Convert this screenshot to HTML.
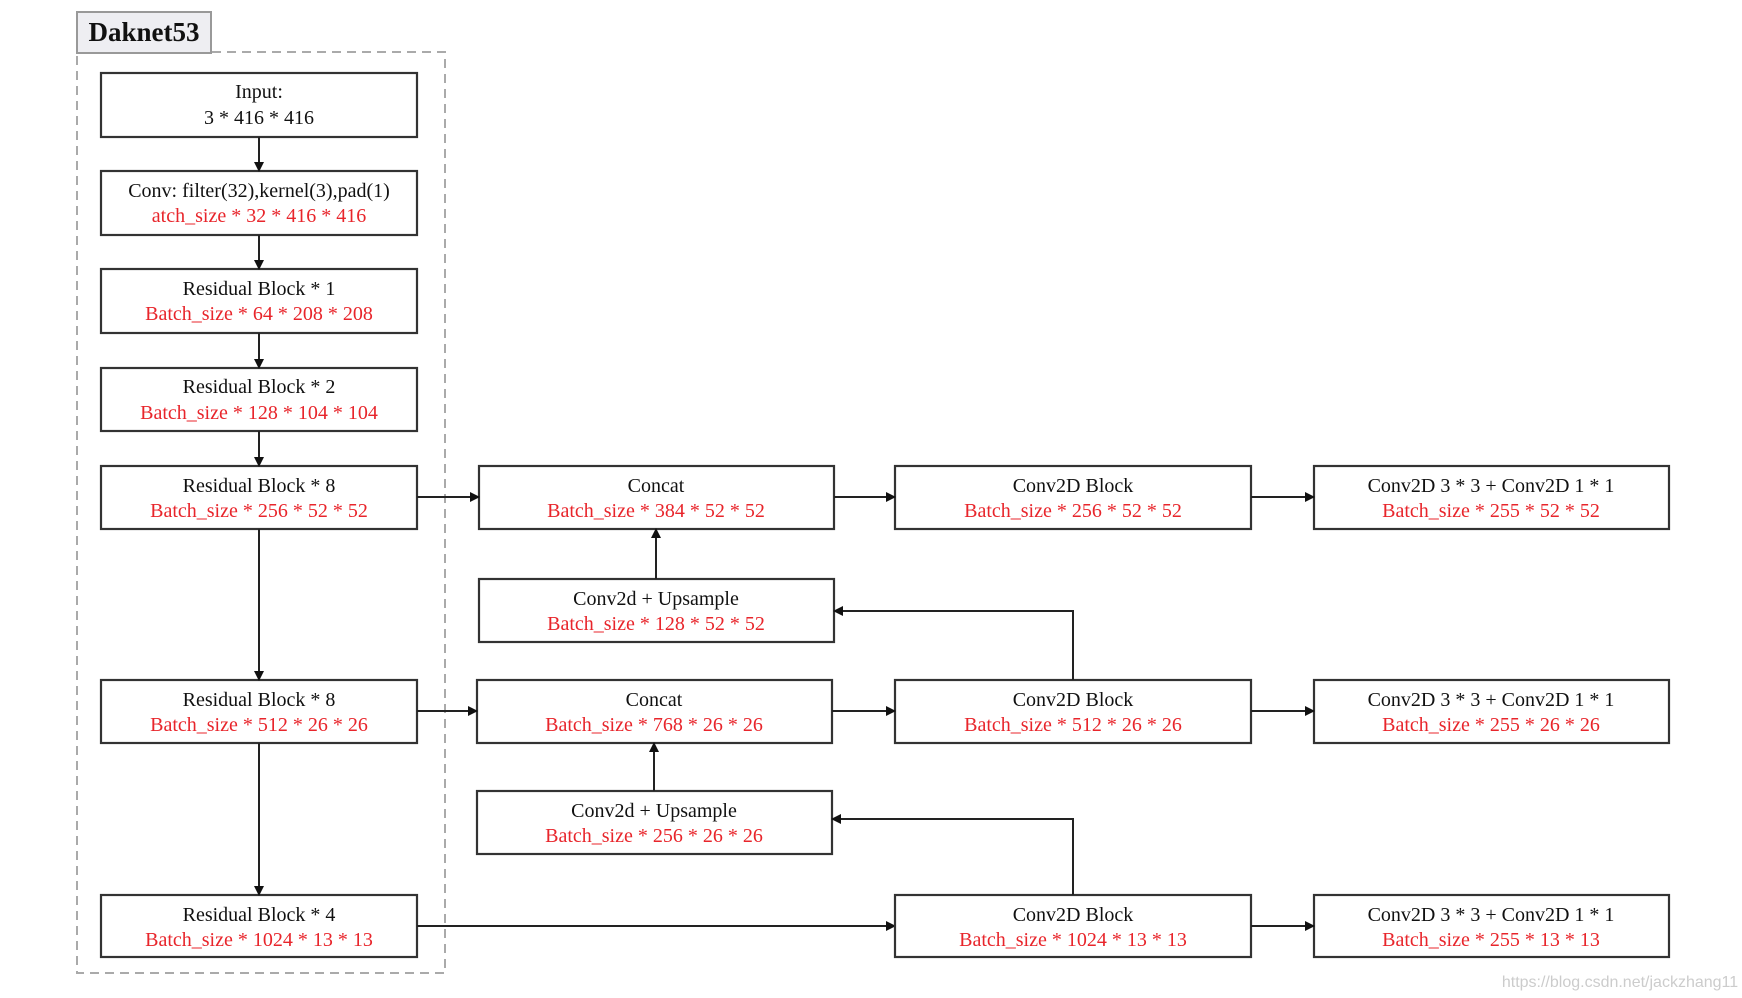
<!DOCTYPE html>
<html><head><meta charset="utf-8"><style>
html,body{margin:0;padding:0;background:#fff;}
svg{display:block;}
text{font-family:"Liberation Serif",serif;font-size:20px;text-anchor:middle;}
.k{fill:#111;} .r{fill:#e8252b;}
rect.b{fill:#fff;stroke:#333;stroke-width:2.2;}
line,polyline{stroke:#222;stroke-width:2;fill:none;}
</style></head><body>
<svg width="1742" height="998" viewBox="0 0 1742 998">
<defs><marker id="a" markerWidth="10" markerHeight="10" refX="9" refY="5" orient="auto" markerUnits="userSpaceOnUse"><path d="M0,0 L10,5 L0,10 z" fill="#111"/></marker></defs>
<rect x="77" y="52" width="368" height="921" fill="none" stroke="#aaa" stroke-width="2" stroke-dasharray="9,6"/>
<rect x="77" y="12" width="134" height="41" fill="#eeeef2" stroke="#999" stroke-width="2"/>
<text x="144" y="41" style="font-size:27px;font-weight:bold" class="k">Daknet53</text>

<!-- left column -->
<rect class="b" x="101" y="73" width="316" height="64"/>
<text x="259" y="98" class="k">Input:</text><text x="259" y="124" class="k">3 * 416 * 416</text>
<rect class="b" x="101" y="171" width="316" height="64"/>
<text x="259" y="197" class="k">Conv: filter(32),kernel(3),pad(1)</text><text x="259" y="222" class="r">atch_size * 32 * 416 * 416</text>
<rect class="b" x="101" y="269" width="316" height="64"/>
<text x="259" y="295" class="k">Residual Block * 1</text><text x="259" y="320" class="r">Batch_size * 64 * 208 * 208</text>
<rect class="b" x="101" y="368" width="316" height="63"/>
<text x="259" y="393" class="k">Residual Block * 2</text><text x="259" y="419" class="r">Batch_size * 128 * 104 * 104</text>
<rect class="b" x="101" y="466" width="316" height="63"/>
<text x="259" y="492" class="k">Residual Block * 8</text><text x="259" y="517" class="r">Batch_size * 256 * 52 * 52</text>
<rect class="b" x="101" y="680" width="316" height="63"/>
<text x="259" y="706" class="k">Residual Block * 8</text><text x="259" y="731" class="r">Batch_size * 512 * 26 * 26</text>
<rect class="b" x="101" y="895" width="316" height="62"/>
<text x="259" y="921" class="k">Residual Block * 4</text><text x="259" y="946" class="r">Batch_size * 1024 * 13 * 13</text>

<line x1="259" y1="137" x2="259" y2="171" marker-end="url(#a)"/>
<line x1="259" y1="235" x2="259" y2="269" marker-end="url(#a)"/>
<line x1="259" y1="333" x2="259" y2="368" marker-end="url(#a)"/>
<line x1="259" y1="431" x2="259" y2="466" marker-end="url(#a)"/>
<line x1="259" y1="529" x2="259" y2="680" marker-end="url(#a)"/>
<line x1="259" y1="743" x2="259" y2="895" marker-end="url(#a)"/>

<!-- middle column -->
<rect class="b" x="479" y="466" width="355" height="63"/>
<text x="656" y="492" class="k">Concat</text><text x="656" y="517" class="r">Batch_size * 384 * 52 * 52</text>
<rect class="b" x="479" y="579" width="355" height="63"/>
<text x="656" y="605" class="k">Conv2d + Upsample</text><text x="656" y="630" class="r">Batch_size * 128 * 52 * 52</text>
<rect class="b" x="477" y="680" width="355" height="63"/>
<text x="654" y="706" class="k">Concat</text><text x="654" y="731" class="r">Batch_size * 768 * 26 * 26</text>
<rect class="b" x="477" y="791" width="355" height="63"/>
<text x="654" y="817" class="k">Conv2d + Upsample</text><text x="654" y="842" class="r">Batch_size * 256 * 26 * 26</text>

<line x1="417" y1="497" x2="479" y2="497" marker-end="url(#a)"/>
<line x1="417" y1="711" x2="477" y2="711" marker-end="url(#a)"/>
<line x1="417" y1="926" x2="895" y2="926" marker-end="url(#a)"/>
<line x1="656" y1="579" x2="656" y2="529" marker-end="url(#a)"/>
<line x1="654" y1="791" x2="654" y2="743" marker-end="url(#a)"/>

<!-- conv2d blocks -->
<rect class="b" x="895" y="466" width="356" height="63"/>
<text x="1073" y="492" class="k">Conv2D Block</text><text x="1073" y="517" class="r">Batch_size * 256 * 52 * 52</text>
<rect class="b" x="895" y="680" width="356" height="63"/>
<text x="1073" y="706" class="k">Conv2D Block</text><text x="1073" y="731" class="r">Batch_size * 512 * 26 * 26</text>
<rect class="b" x="895" y="895" width="356" height="62"/>
<text x="1073" y="921" class="k">Conv2D Block</text><text x="1073" y="946" class="r">Batch_size * 1024 * 13 * 13</text>

<line x1="834" y1="497" x2="895" y2="497" marker-end="url(#a)"/>
<line x1="832" y1="711" x2="895" y2="711" marker-end="url(#a)"/>
<polyline points="1073,680 1073,611 834,611" marker-end="url(#a)"/>
<polyline points="1073,895 1073,819 832,819" marker-end="url(#a)"/>

<!-- right column -->
<rect class="b" x="1314" y="466" width="355" height="63"/>
<text x="1491" y="492" class="k">Conv2D 3 * 3 + Conv2D 1 * 1</text><text x="1491" y="517" class="r">Batch_size * 255 * 52 * 52</text>
<rect class="b" x="1314" y="680" width="355" height="63"/>
<text x="1491" y="706" class="k">Conv2D 3 * 3 + Conv2D 1 * 1</text><text x="1491" y="731" class="r">Batch_size * 255 * 26 * 26</text>
<rect class="b" x="1314" y="895" width="355" height="62"/>
<text x="1491" y="921" class="k">Conv2D 3 * 3 + Conv2D 1 * 1</text><text x="1491" y="946" class="r">Batch_size * 255 * 13 * 13</text>

<line x1="1251" y1="497" x2="1314" y2="497" marker-end="url(#a)"/>
<line x1="1251" y1="711" x2="1314" y2="711" marker-end="url(#a)"/>
<line x1="1251" y1="926" x2="1314" y2="926" marker-end="url(#a)"/>

<text x="1620" y="987" style="font-family:'Liberation Sans',sans-serif;font-size:16px;fill:#ccc">https://blog.csdn.net/jackzhang11</text>
</svg>
</body></html>
